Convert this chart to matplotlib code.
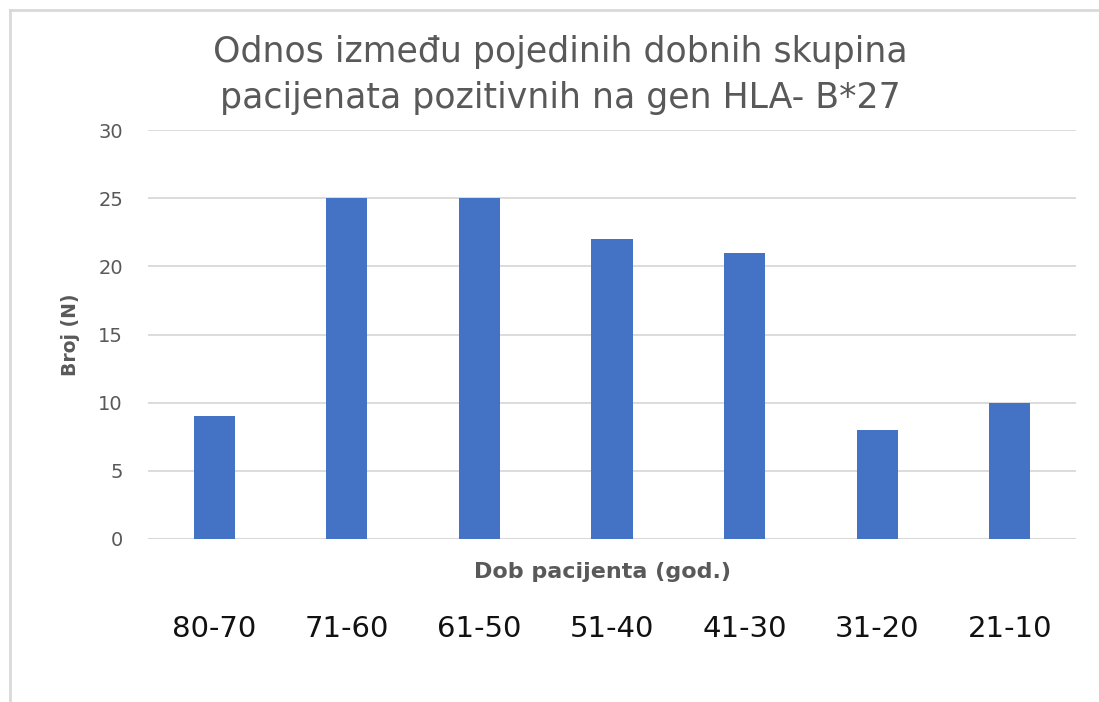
import matplotlib
matplotlib.use("Agg")
import matplotlib.pyplot as plt
from matplotlib.lines import Line2D

plt.rcParams['font.family'] = ['DejaVu Sans']

dobne_skupine = ['80-70', '71-60', '61-50', '51-40', '41-30', '31-20', '21-10']
broj = [9, 25, 25, 22, 21, 8, 10]
y_ticks = [0, 5, 10, 15, 20, 25, 30]

fig = plt.figure(figsize=(10.99, 7.02), dpi=100)
ax = fig.add_axes([148 / 1099, 1 - 539 / 702, 928 / 1099, 409 / 702])

x = range(len(broj))
ax.bar(x, broj, width=0.31, color='#4472C4', zorder=3)

ax.set_xlim(-0.5, len(broj) - 0.5)
ax.set_ylim(0, 30)
ax.set_yticks(y_ticks)
ax.set_xticks(list(x))
ax.set_xticklabels(dobne_skupine, fontsize=21, color='#111111')
ax.tick_params(axis='x', length=0, pad=55)
ax.tick_params(axis='y', length=0, pad=18, labelsize=14, labelcolor='#595959')

ax.grid(axis='y', color='#d9d9d9', linewidth=1.3, zorder=0)
for s in ax.spines.values():
    s.set_visible(False)
ax.axhline(0, color='#d9d9d9', linewidth=1.5, zorder=2)

ax.set_xlabel('Dob pacijenta (god.)', fontsize=16, fontweight='bold', color='#595959', va='center')
ax.xaxis.set_label_coords(0.49, -33 / 409)
ax.set_ylabel('Broj (N)', fontsize=13.5, fontweight='bold', color='#595959')
ax.yaxis.set_label_coords(-68 / 928, 0.5)

fig.text(560 / 1099, 1 - 75 / 702,
         'Odnos između pojedinih dobnih skupina\npacijenata pozitivnih na gen HLA- B*27',
         ha='center', va='center', fontsize=25, color='#595959', linespacing=1.42)

# okvir grafikona
fig.add_artist(Line2D([10 / 1099, 10 / 1099], [0, 1 - 10 / 702],
                      transform=fig.transFigure, color='#d9d9d9', linewidth=2))
fig.add_artist(Line2D([10 / 1099, 1], [1 - 10 / 702, 1 - 10 / 702],
                      transform=fig.transFigure, color='#d9d9d9', linewidth=2))

fig.savefig('out.png', dpi=100)
